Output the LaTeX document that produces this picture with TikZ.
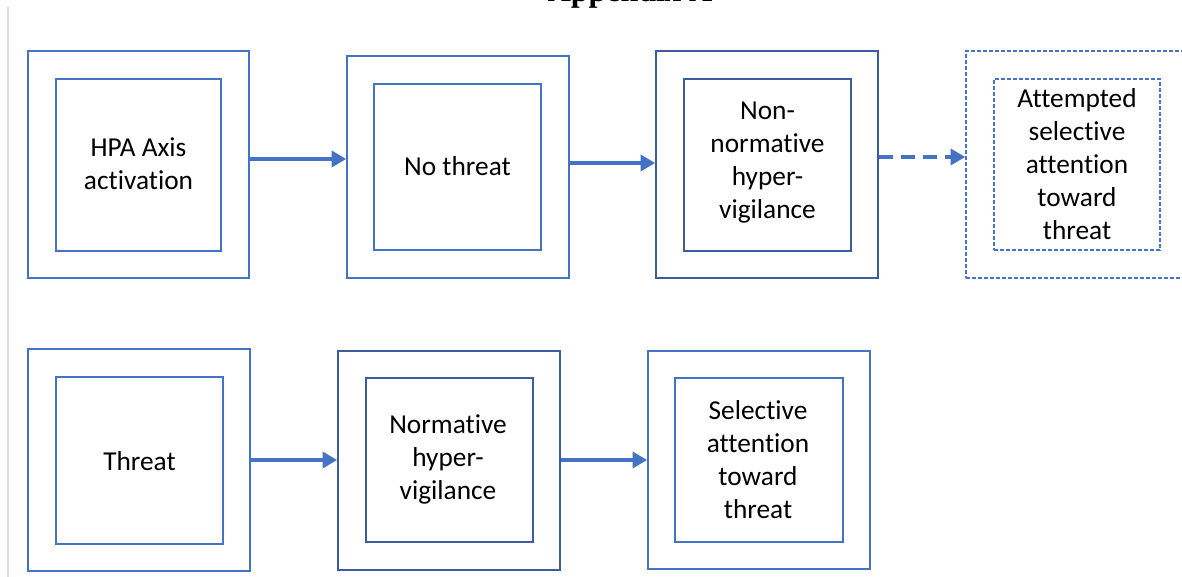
\documentclass[tikz,border=0pt]{standalone}
\usepackage{fontspec}
\setmainfont{Carlito}[Ligatures=NoCommon]
\newfontfamily\titleserif{Liberation Serif}
\usetikzlibrary{fit,arrows.meta}
\definecolor{lblue}{HTML}{4472C4}
\definecolor{dblue}{HTML}{3D5C9E}
\definecolor{lgray}{HTML}{D9D9D9}
\begin{document}
\begin{tikzpicture}[x=0.75pt,y=-0.75pt,
  boxl/.style={draw=lblue,line width=1.2pt,inner sep=0pt,rectangle},
  boxd/.style={draw=dblue,line width=1.2pt,inner sep=0pt,rectangle},
  boxdash/.style={draw=lblue,line width=1.1pt,inner sep=0pt,rectangle,dash pattern=on 3pt off 1.5pt},
  txt/.style={font=\fontsize{20.5pt}{24.75pt}\selectfont,align=center,inner sep=0pt,text=black},
  arr/.style={draw=lblue,line width=3.2pt,-{Triangle[length=11pt,width=12pt]}},
  arrdash/.style={arr,dash pattern=on 11pt off 5.5pt}]
\useasboundingbox (0,0) rectangle (1182,577);
\fill[white] (0,0) rectangle (1182,577);
% left rule and cut title
\draw[lgray,line width=1.5pt] (8,7) coordinate (ruletop) -- (8,577) coordinate (rulebot);
\node[font=\titleserif\bfseries\fontsize{24pt}{28pt}\selectfont,anchor=base,inner sep=0pt] (title) at (630,2) {Appendix A};
% row 1
\node[boxl,fit={(28,51)(249,278)}] (o1) {};
\node[boxl,fit={(56,79)(221,251)}] (i1) {};
\node[txt] (t1) at (138.5,164) {HPA Axis\\activation};
\node[boxl,fit={(347,56)(569,278)}] (o2) {};
\node[boxl,fit={(374,84)(541,250)}] (i2) {};
\node[txt] (t2) at (457.5,166) {No threat};
\node[boxd,fit={(656,51)(878,278)}] (o3) {};
\node[boxd,fit={(684,79)(851,251)}] (i3) {};
\node[txt] (t3) at (767.5,163) {Non-\\normative\\hyper-\\vigilance};
\node[boxdash,fit={(966,51)(1190,278)}] (o4) {};
\node[boxdash,fit={(994,79)(1160,250)}] (i4) {};
\node[txt] (t4) at (1077,164) {Attempted\\selective\\attention\\toward\\threat};
% row 2
\node[boxl,fit={(28,349)(250,571)}] (o5) {};
\node[boxl,fit={(56,377)(223,544)}] (i5) {};
\node[txt] (t5) at (139.5,461) {Threat};
\node[boxd,fit={(338,351)(560,570)}] (o6) {};
\node[boxd,fit={(366,378)(533,542)}] (i6) {};
\node[txt] (t6) at (448,459) {Normative\\hyper-\\vigilance};
\node[boxl,fit={(648,351)(870,569)}] (o7) {};
\node[boxl,fit={(675,378)(843,542)}] (i7) {};
\node[txt] (t7) at (758,460) {Selective\\attention\\toward\\threat};
% arrows
\draw[arr] (o1.east |- 0,159) -- (o2.west |- 0,159);
\draw[arr] (o2.east |- 0,163) -- (o3.west |- 0,163);
\draw[arrdash] (o3.east |- 0,157) -- (o4.west |- 0,157);
\draw[arr] (o5.east |- 0,460) -- (o6.west |- 0,460);
\draw[arr] (o6.east |- 0,460) -- (o7.west |- 0,460);
\end{tikzpicture}
\end{document}
